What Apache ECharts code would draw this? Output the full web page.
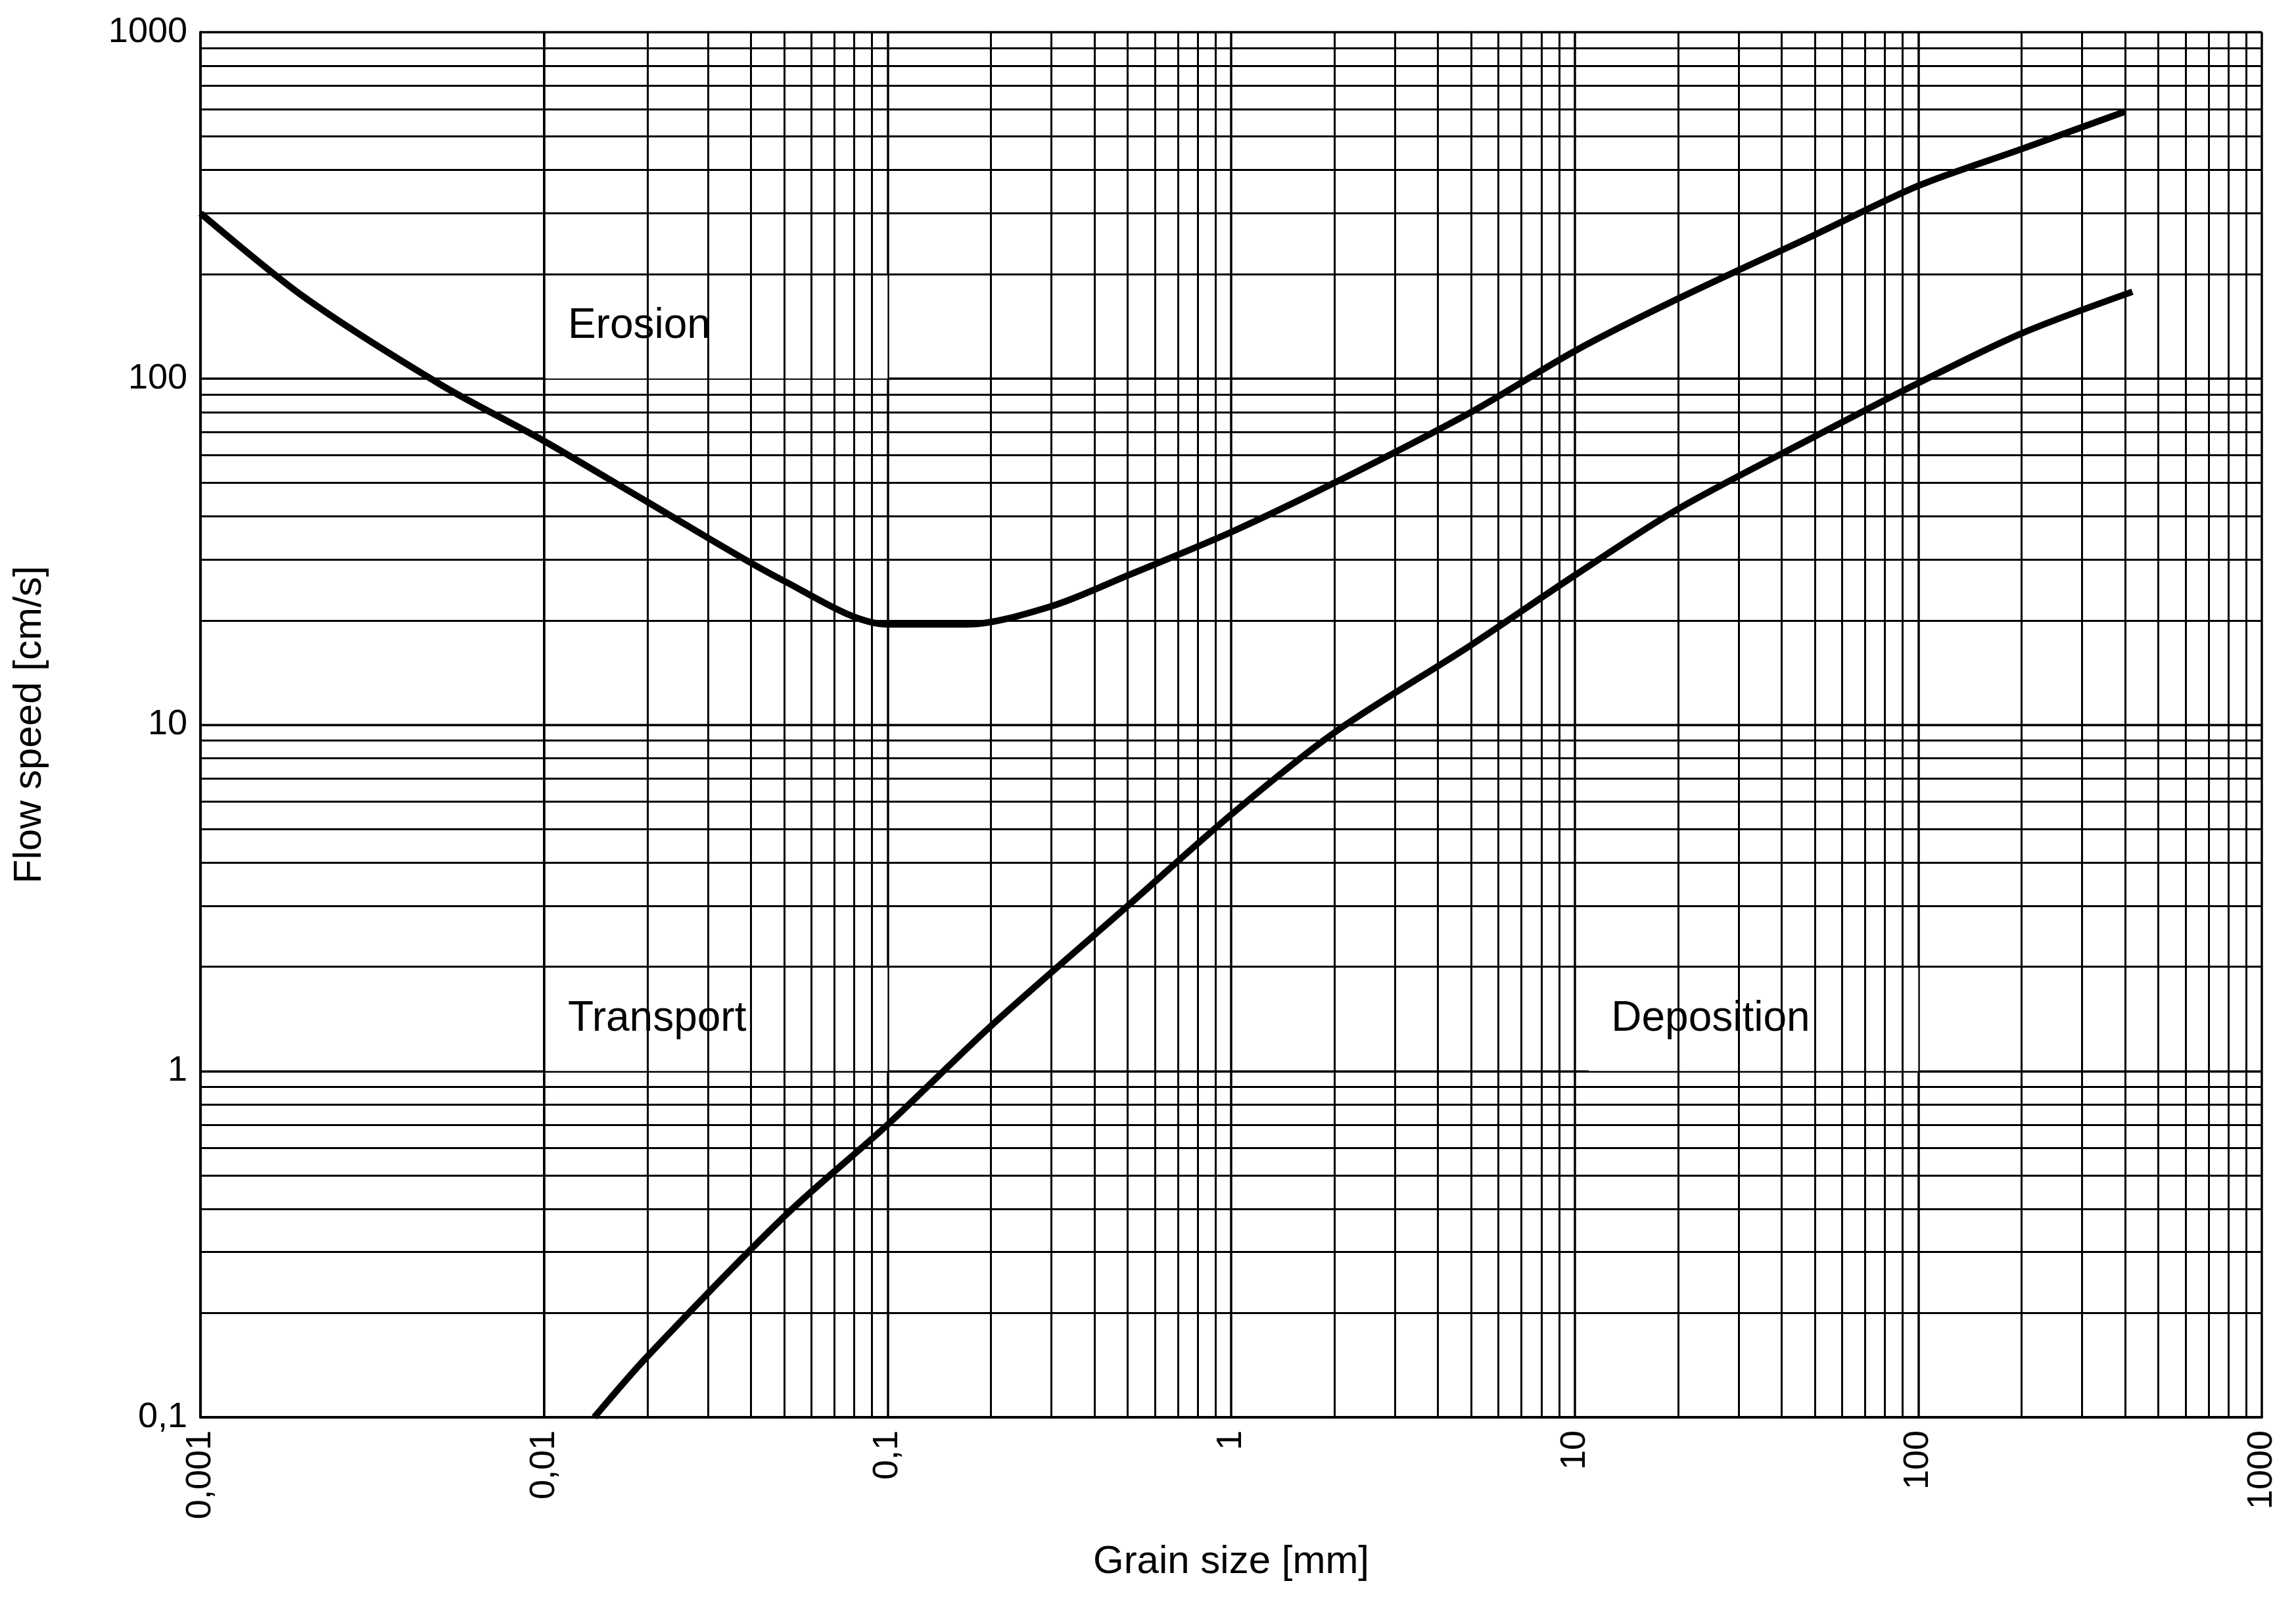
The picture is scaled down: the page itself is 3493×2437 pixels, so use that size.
<!DOCTYPE html>
<html><head><meta charset="utf-8">
<script src="https://cdn.jsdelivr.net/npm/echarts@6/dist/echarts.min.js"></script>
<style>html,body{margin:0;padding:0;background:#fff}#c{width:3493px;height:2437px}</style>
</head><body><div id="c"></div>
<script>
const erosion = [[0.001,300],[0.002,172],[0.005,96],[0.01,66],[0.02,44],[0.05,26],[0.1,19.5],[0.17,19.5],[0.3,22],[0.5,27],[1,36],[2,50],[5,80],[10,120],[20,170],[50,260],[100,360],[200,460],[400,590]];
const deposition = [[0.014,0.1],[0.02,0.15],[0.05,0.38],[0.1,0.7],[0.2,1.35],[0.5,3.0],[1,5.5],[2,9.5],[5,17],[10,27],[20,42],[50,68],[100,97],[200,135],[420,178]];
const regions = [
  {name:'Erosion', x:[0.0101,0.1], y:[100,200]},
  {name:'Transport', x:[0.0101,0.1], y:[1,2]},
  {name:'Deposition', x:[11,100], y:[1,2]}
];
const xDecades = [0.001,0.01,0.1,1,10,100];
const yDecades = [0.1,1,10,100];
const minorMult = [2,3,4,5,6,7,8,9];
const fmt = v => String(v).replace('.', ',');

const gridLines = [];
xDecades.forEach(d => minorMult.forEach(m => gridLines.push({xAxis: d*m})));
yDecades.forEach(d => minorMult.forEach(m => gridLines.push({yAxis: d*m})));

const ff = 'Liberation Sans, Arial, sans-serif';
const chart = echarts.init(document.getElementById('c'));
chart.setOption({
  backgroundColor:'#fff',
  animation:false,
  grid:{left:305,right:52,top:49,bottom:281},
  xAxis:{type:'log',logBase:10,min:0.001,max:1000,name:'Grain size [mm]',nameLocation:'middle',nameGap:190,
    nameTextStyle:{fontFamily:ff,fontSize:60,color:'#000'},
    axisLine:{lineStyle:{color:'#000',width:4}},axisTick:{show:false},
    axisLabel:{rotate:90,fontFamily:ff,fontSize:54,color:'#000',margin:20,formatter:fmt},
    splitLine:{show:true,lineStyle:{color:'#000',width:3.5}}},
  yAxis:{type:'log',logBase:10,min:0.1,max:1000,name:'Flow speed [cm/s]',nameLocation:'middle',nameGap:230,
    nameTextStyle:{fontFamily:ff,fontSize:60,color:'#000'},
    axisLine:{lineStyle:{color:'#000',width:4}},axisTick:{show:false},
    axisLabel:{fontFamily:ff,fontSize:54,color:'#000',margin:20,formatter:fmt},
    splitLine:{show:true,lineStyle:{color:'#000',width:3.5}}},
  series:[
    {type:'line',data:[],silent:true,z:1,
      markLine:{silent:true,symbol:'none',label:{show:false},lineStyle:{color:'#000',width:3,type:'solid'},data:gridLines}},
    {type:'line',data:[],silent:true,z:3,
      markArea:{silent:true,itemStyle:{color:'#fff',opacity:1},
        label:{show:true,position:'insideLeft',distance:34,fontFamily:ff,fontSize:64,color:'#000'},
        data:regions.map(r=>[{name:r.name,xAxis:r.x[0],yAxis:r.y[0]},{xAxis:r.x[1],yAxis:r.y[1]}])}},
    {type:'line',data:erosion,smooth:0.3,showSymbol:false,lineStyle:{color:'#000',width:10},z:5},
    {type:'line',data:deposition,smooth:0.3,showSymbol:false,lineStyle:{color:'#000',width:10},z:5}
  ]
});
</script></body></html>
